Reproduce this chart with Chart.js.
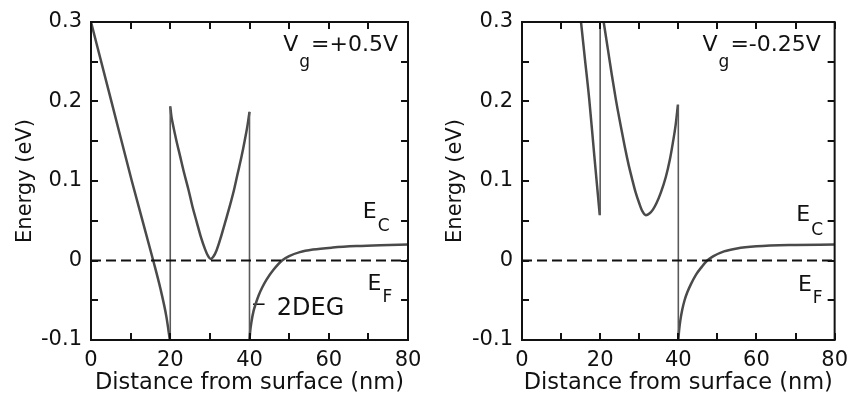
<!DOCTYPE html>
<html><head><meta charset="utf-8">
<script src="https://cdn.jsdelivr.net/npm/chart.js@4/dist/chart.umd.min.js"></script>
<style>
html,body{margin:0;padding:0;background:#fff;}
#wrap{position:relative;width:856px;height:405px;overflow:hidden;}
#c1{position:absolute;left:0;top:0;}
#c2{position:absolute;left:430px;top:0;}
</style></head><body>
<div id="wrap"><canvas id="c1" width="430" height="405"></canvas><canvas id="c2" width="426" height="405"></canvas></div>
<script>
// ---------- data ----------
const xTickValues = [0, 20, 40, 60, 80];
const yTickValues = [-0.1, 0, 0.1, 0.2, 0.3];
const fermiLevel = 0;

// Panel 1: Vg = +0.5 V
const p1SurfaceX = [0, 5, 10.3, 15.7, 17.5, 19, 19.9];
const p1SurfaceY = [0.3, 0.203, 0.1, 0, -0.035, -0.07, -0.1];
const p1WellX = [20, 20.3, 20.6, 21.5, 22.5, 23.5, 24.6, 25.6, 26.7, 27.7, 28.8, 29.5, 30.2, 30.9, 31.7, 32.7, 33.8, 35, 36.1, 37, 38, 38.8, 39.5, 40];
const p1WellY = [0.194, 0.181, 0.173, 0.152, 0.131, 0.11, 0.089, 0.068, 0.048, 0.03, 0.014, 0.006, 0.002, 0.005, 0.013, 0.028, 0.047, 0.068, 0.089, 0.109, 0.131, 0.151, 0.17, 0.187];
const p1ChannelX = [40, 40.2, 40.5, 41, 41.6, 42.3, 43.2, 44.3, 46, 48.2, 50, 52.7, 56, 61, 67, 73, 80];
const p1ChannelY = [-0.1, -0.088, -0.077, -0.064, -0.054, -0.044, -0.034, -0.024, -0.012, 0, 0.0055, 0.0105, 0.0137, 0.0163, 0.0182, 0.0193, 0.02];
const p1InterfaceX = [20, 20, null, 40, 40];
const p1InterfaceY = [-0.1, 0.194, null, 0.187, -0.1];
const p1MarkerX = [40.9, 43.8];
const p1MarkerY = [-0.055, -0.055];

// Panel 2: Vg = -0.25 V
const p2SurfaceX = [15.1, 16, 17.2, 18.5, 19.9];
const p2SurfaceY = [0.3, 0.258, 0.203, 0.132, 0.057];
const p2WellX = [20.9, 22, 23, 24, 25.2, 26.3, 27.3, 28.1, 29, 30, 30.8, 31.7, 32.6, 33.5, 34.4, 35.5, 36.8, 37.8, 38.6, 39.3, 39.9];
const p2WellY = [0.3, 0.265, 0.233, 0.203, 0.171, 0.143, 0.12, 0.104, 0.087, 0.072, 0.062, 0.057, 0.059, 0.064, 0.072, 0.085, 0.105, 0.126, 0.148, 0.17, 0.196];
const p2ChannelX = [40, 40.2, 40.5, 41, 41.6, 42.3, 43.2, 44.5, 46, 47.4, 49, 51.7, 55, 60, 68.5, 80];
const p2ChannelY = [-0.1, -0.088, -0.076, -0.062, -0.05, -0.04, -0.03, -0.018, -0.008, 0, 0.0055, 0.0115, 0.0152, 0.0178, 0.0195, 0.02];
const p2InterfaceX = [20, 20, null, 40, 40];
const p2InterfaceY = [0.057, 0.3, null, 0.196, -0.1];

// ---------- helpers ----------
function pts(xs, ys) {
  return xs.map((x, i) => (x === null ? {x: NaN, y: null} : {x: x, y: ys[i]}));
}
const FONT = 'DejaVu Sans';
const INK = '#111';
const CURVE = '#4a4a4a';

// annotation placement (x in nm, y in eV at text baseline)
const annotations = [
  [
    {x: 48.5, y: 0.263, main: 'V', sub: 'g', rest: '=+0.5V', subDy: 0.019},
    {x: 68.6, y: 0.0537, main: 'E', sub: 'C', rest: '', subDy: 0.0168},
    {x: 69.8, y: -0.0365, main: 'E', sub: 'F', rest: '', subDy: 0.016},
    {x: 46.9, y: -0.068, main: '2DEG', sub: '', rest: '', subDy: 0, size: 24}
  ],
  [
    {x: 46.2, y: 0.263, main: 'V', sub: 'g', rest: '=-0.25V', subDy: 0.019},
    {x: 70.2, y: 0.0494, main: 'E', sub: 'C', rest: '', subDy: 0.0167},
    {x: 70.6, y: -0.0386, main: 'E', sub: 'F', rest: '', subDy: 0.0154}
  ]
];

const framePlugin = {
  id: 'frame',
  afterDraw(chart) {
    const {ctx, chartArea: a, scales: {x, y}} = chart;
    const idx = chart.options.plugins.frame.panel;
    ctx.save();
    ctx.strokeStyle = '#111';
    ctx.lineWidth = 2;
    ctx.beginPath();
    const L = 7;
    for (let v = 0; v <= 80; v += 10) {
      const px = Math.round(x.getPixelForValue(v));
      ctx.moveTo(px, a.bottom); ctx.lineTo(px, a.bottom - L);
      ctx.moveTo(px, a.top); ctx.lineTo(px, a.top + L);
    }
    for (let k = -2; k <= 6; k++) {
      const py = Math.round(y.getPixelForValue(k * 0.05));
      ctx.moveTo(a.left, py); ctx.lineTo(a.left + L, py);
      ctx.moveTo(a.right, py); ctx.lineTo(a.right - L, py);
    }
    ctx.stroke();
    ctx.strokeRect(a.left, a.top, a.right - a.left, a.bottom - a.top);
    // text annotations
    ctx.fillStyle = INK;
    ctx.textBaseline = 'alphabetic';
    ctx.textAlign = 'left';
    annotations[idx].forEach(t => {
      let px = x.getPixelForValue(t.x);
      const py = y.getPixelForValue(t.y);
      ctx.font = (t.size || 22) + 'px "' + FONT + '"';
      ctx.fillText(t.main, px, py);
      px += ctx.measureText(t.main).width + 1;
      if (t.sub) {
        ctx.font = '17px "' + FONT + '"';
        const spy = y.getPixelForValue(t.y - t.subDy);
        ctx.fillText(t.sub, px, spy);
        px += ctx.measureText(t.sub).width + 1;
      }
      if (t.rest) {
        ctx.font = (t.size || 22) + 'px "' + FONT + '"';
        ctx.fillText(t.rest, px, py);
      }
    });
    ctx.restore();
  }
};

function makeChart(canvasId, idx, sets, padRight, yWidth) {
  const curve = {borderColor: CURVE, borderWidth: 2.5, cubicInterpolationMode: 'monotone'};
  const datasets = [
    {data: pts([0, 80], [fermiLevel, fermiLevel]), borderColor: '#111', borderWidth: 2, borderDash: [10, 5]},
    {data: pts(sets.ix, sets.iy), borderColor: '#5a5a5a', borderWidth: 1.6, spanGaps: false},
    Object.assign({data: pts(sets.sx, sets.sy)}, curve),
    Object.assign({data: pts(sets.wx, sets.wy)}, curve),
    Object.assign({data: pts(sets.cx, sets.cy)}, curve)
  ];
  if (sets.mx) datasets.push({data: pts(sets.mx, sets.my), borderColor: '#111', borderWidth: 1.6});
  datasets.forEach(d => { d.pointRadius = 0; d.fill = false; });
  return new Chart(document.getElementById(canvasId), {
    type: 'line',
    data: {datasets},
    plugins: [framePlugin],
    options: {
      responsive: false, animation: false, devicePixelRatio: 1,
      layout: {padding: {left: 0, top: 22, right: padRight, bottom: 0}},
      plugins: {legend: {display: false}, tooltip: {enabled: false}, frame: {panel: idx}},
      scales: {
        x: {
          type: 'linear', min: 0, max: 80,
          afterBuildTicks(s) { s.ticks = xTickValues.map(v => ({value: v})); },
          ticks: {autoSkip: false, maxRotation: 0, padding: 8, color: INK,
                  font: {family: FONT, size: 21}, callback: v => String(v)},
          grid: {display: false, drawTicks: false},
          border: {display: false},
          title: {display: true, text: 'Distance from surface (nm)', color: INK,
                  font: {family: FONT, size: 22.5}, padding: {top: 0, bottom: 8}},
          afterFit(s) { s.height = 65; }
        },
        y: {
          type: 'linear', min: -0.1, max: 0.3,
          afterBuildTicks(s) { s.ticks = yTickValues.map(v => ({value: v})); },
          ticks: {padding: 9, color: INK, font: {family: FONT, size: 21},
                  callback: v => { const r = Math.round(v * 10); return r === 0 ? '0' : (r / 10).toFixed(1); }},
          grid: {display: false, drawTicks: false},
          border: {display: false},
          title: {display: true, text: 'Energy (eV)', color: INK,
                  font: {family: FONT, size: 21}, padding: {top: 13, bottom: 0}},
          afterFit(s) { s.width = yWidth; }
        }
      }
    }
  });
}

makeChart('c1', 0, {sx: p1SurfaceX, sy: p1SurfaceY, wx: p1WellX, wy: p1WellY, cx: p1ChannelX, cy: p1ChannelY,
                    ix: p1InterfaceX, iy: p1InterfaceY, mx: p1MarkerX, my: p1MarkerY}, 22, 91);
makeChart('c2', 1, {sx: p2SurfaceX, sy: p2SurfaceY, wx: p2WellX, wy: p2WellY, cx: p2ChannelX, cy: p2ChannelY,
                    ix: p2InterfaceX, iy: p2InterfaceY}, 17, 92);
</script>
</body></html>
